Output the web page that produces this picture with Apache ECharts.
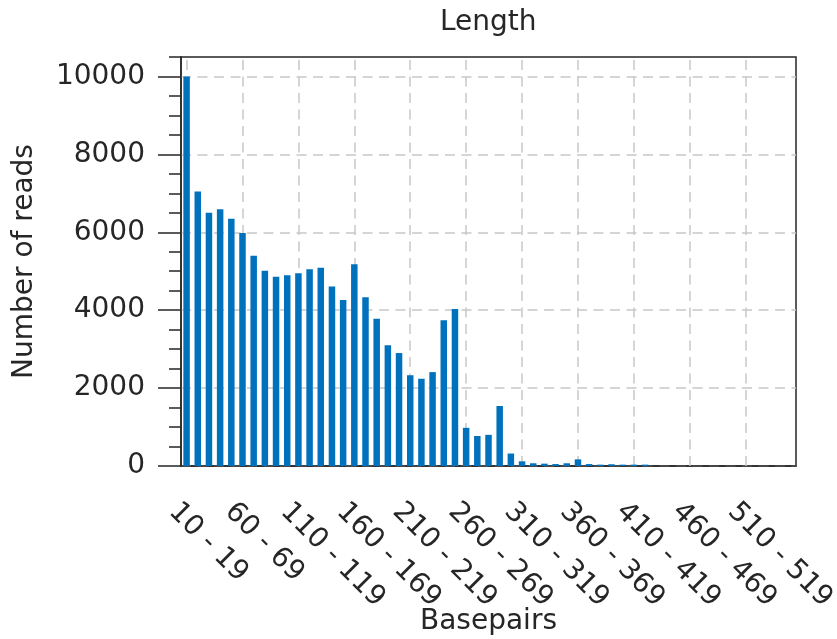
<!DOCTYPE html>
<html>
<head>
<meta charset="utf-8">
<script src="https://cdn.jsdelivr.net/npm/echarts@6/dist/echarts.min.js"></script>
<style>html,body{margin:0;padding:0;background:#fff;}#c{width:837px;height:639px;}</style>
</head>
<body>
<div id="c"></div>
<script>
var categories = [
  "10 - 19","20 - 29","30 - 39","40 - 49","50 - 59","60 - 69","70 - 79","80 - 89","90 - 99","100 - 109",
  "110 - 119","120 - 129","130 - 139","140 - 149","150 - 159","160 - 169","170 - 179","180 - 189","190 - 199","200 - 209",
  "210 - 219","220 - 229","230 - 239","240 - 249","250 - 259","260 - 269","270 - 279","280 - 289","290 - 299","300 - 309",
  "310 - 319","320 - 329","330 - 339","340 - 349","350 - 359","360 - 369","370 - 379","380 - 389","390 - 399","400 - 409",
  "410 - 419","420 - 429","430 - 439","440 - 449","450 - 459","460 - 469","470 - 479","480 - 489","490 - 499","500 - 509",
  "510 - 519","520 - 529","530 - 539","540 - 549","550 - 559"
];
var reads = [
  10000, 7050, 6500, 6590, 6350, 5980, 5400, 5010, 4860, 4900,
  4950, 5050, 5090, 4610, 4260, 5180, 4330, 3780, 3100, 2900,
  2330, 2240, 2410, 3740, 4030, 980, 770, 800, 1540, 320,
  120, 70, 60, 50, 70, 170, 50, 35, 45, 35,
  35, 35, 0, 0, 0, 0, 0, 0, 0, 0,
  0, 0, 0, 0, 0
];
var yMajorTicks = [0, 2000, 4000, 6000, 8000, 10000];
var gridCategories = ["10 - 19","60 - 69","110 - 119","160 - 169","210 - 219","260 - 269","310 - 319","360 - 369","410 - 419","460 - 469","510 - 519"];

var FONT = "'DejaVu Sans'";
var FS = 28;
var TXT = '#262626';
var GRID = '#c8c8c8';
var DASH = [10, 6.5];
var chart = echarts.init(document.getElementById('c'), null, {renderer: 'canvas'});
chart.setOption({
  animation: false,
  backgroundColor: '#ffffff',
  title: {
    text: 'Length', left: 440, top: 9, padding: 0,
    textStyle: {fontFamily: FONT, fontSize: FS, fontWeight: 'normal', color: TXT}
  },
  grid: {
    left: 181, right: 41, top: 57, bottom: 173,
    containLabel: false, outerBoundsMode: 'none',
    show: true, borderColor: TXT, borderWidth: 1.5, backgroundColor: 'transparent'
  },
  xAxis: {
    type: 'category', data: categories, boundaryGap: true,
    name: 'Basepairs', nameLocation: 'middle', nameGap: 142, nameMoveOverlap: false,
    nameTextStyle: {fontFamily: FONT, fontSize: FS, color: TXT},
    axisLine: {show: true, lineStyle: {color: TXT, width: 1.5}},
    axisTick: {show: false},
    splitLine: {show: false},
    axisLabel: {
      interval: 4, rotate: -45, margin: 28,
      align: 'left', verticalAlign: 'top', lineHeight: 38,
      fontFamily: FONT, fontSize: FS, color: TXT, hideOverlap: false
    }
  },
  yAxis: [{
    type: 'value', min: 0, max: 10500, interval: 2000, position: 'left',
    name: 'Number of reads', nameLocation: 'middle', nameGap: 142, nameRotate: 90, nameMoveOverlap: false,
    nameTextStyle: {fontFamily: FONT, fontSize: FS, color: TXT},
    axisLine: {show: true, lineStyle: {color: TXT, width: 1.5}},
    axisTick: {show: true, length: 23, customValues: yMajorTicks, lineStyle: {color: TXT, width: 1.5}},
    axisLabel: {
      customValues: yMajorTicks, margin: 36,
      fontFamily: FONT, fontSize: FS, color: TXT,
      formatter: function (v) { return v > 10000 ? '' : String(v); }
    },
    splitLine: {show: true, lineStyle: {color: GRID, width: 1.5, type: DASH}}
  }, {
    type: 'value', min: 0, max: 10500, interval: 500, position: 'left',
    axisLine: {show: false},
    axisTick: {show: true, length: 12, lineStyle: {color: TXT, width: 1.5}},
    axisLabel: {show: false},
    splitLine: {show: false}
  }],
  series: [{
    type: 'line', data: reads, yAxisIndex: 0, z: 1,
    symbol: 'none', silent: true, lineStyle: {opacity: 0},
    markLine: {
      silent: true, symbol: ['none', 'none'], label: {show: false}, z: 1,
      lineStyle: {color: GRID, width: 1.5, type: DASH},
      emphasis: {disabled: true},
      data: gridCategories.map(function (c) { return {xAxis: c}; })
    }
  }, {
    type: 'bar', data: reads, yAxisIndex: 0, z: 10,
    barWidth: 6.5,
    itemStyle: {color: '#0072BD'}
  }]
});
</script>
</body>
</html>
